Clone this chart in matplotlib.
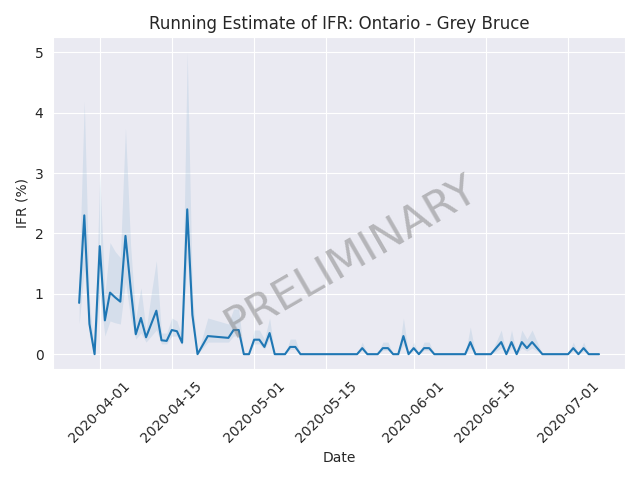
import pandas as pd
import matplotlib
matplotlib.use("Agg")
import matplotlib.pyplot as plt
import matplotlib.dates as mdates
import seaborn as sns

dates = ["2020-03-28", "2020-03-29", "2020-03-30", "2020-03-31", "2020-04-01", "2020-04-02",
         "2020-04-03", "2020-04-04", "2020-04-05", "2020-04-06", "2020-04-07", "2020-04-08",
         "2020-04-09", "2020-04-10", "2020-04-11", "2020-04-12", "2020-04-13", "2020-04-14",
         "2020-04-15", "2020-04-16", "2020-04-17", "2020-04-18", "2020-04-19", "2020-04-20",
         "2020-04-22", "2020-04-26", "2020-04-27", "2020-04-28", "2020-04-29", "2020-04-30",
         "2020-05-01", "2020-05-02", "2020-05-03", "2020-05-04", "2020-05-05", "2020-05-06",
         "2020-05-07", "2020-05-08", "2020-05-09", "2020-05-10", "2020-05-21", "2020-05-22",
         "2020-05-23", "2020-05-25", "2020-05-26", "2020-05-27", "2020-05-28", "2020-05-29",
         "2020-05-30", "2020-05-31", "2020-06-01", "2020-06-02", "2020-06-03", "2020-06-04",
         "2020-06-05", "2020-06-06", "2020-06-07", "2020-06-11", "2020-06-12", "2020-06-13",
         "2020-06-16", "2020-06-18", "2020-06-19", "2020-06-20", "2020-06-21", "2020-06-22",
         "2020-06-23", "2020-06-24", "2020-06-26", "2020-07-01", "2020-07-02", "2020-07-03",
         "2020-07-04", "2020-07-05", "2020-07-07"]
ifr = [0.85, 2.3, 0.5, 0.0, 1.79, 0.56,
       1.02, 0.94, 0.87, 1.96, 1.1, 0.33,
       0.6, 0.28, 0.5, 0.72, 0.23, 0.22,
       0.40, 0.38, 0.19, 2.4, 0.65, 0.0,
       0.3, 0.27, 0.4, 0.4, 0.0, 0.0,
       0.24, 0.24, 0.12, 0.35, 0.0, 0.0,
       0.0, 0.12, 0.12, 0.0, 0.0, 0.1,
       0.0, 0.0, 0.1, 0.1, 0.0, 0.0,
       0.3, 0.0, 0.1, 0.0, 0.1, 0.1,
       0.0, 0.0, 0.0, 0.0, 0.2, 0.0,
       0.0, 0.2, 0.0, 0.2, 0.0, 0.2,
       0.1, 0.2, 0.0, 0.0, 0.1, 0.0,
       0.1, 0.0, 0.0]
lower = [0.5, 1.4, 0.3, 0.0, 1.0, 0.3,
         0.55, 0.52, 0.5, 1.2, 0.6, 0.25,
         0.35, 0.2, 0.3, 0.4, 0.17, 0.17,
         0.3, 0.3, 0.15, 1.6, 0.45, 0.0,
         0.2, 0.2, 0.3, 0.3, 0.0, 0.0,
         0.17, 0.17, 0.08, 0.25, 0.0, 0.0,
         0.0, 0.08, 0.08, 0.0, 0.0, 0.06,
         0.0, 0.0, 0.06, 0.06, 0.0, 0.0,
         0.15, 0.0, 0.06, 0.0, 0.06, 0.06,
         0.0, 0.0, 0.0, 0.0, 0.1, 0.0,
         0.0, 0.1, 0.0, 0.1, 0.0, 0.1,
         0.05, 0.1, 0.0, 0.0, 0.05, 0.0,
         0.05, 0.0, 0.0]
upper = [1.3, 4.2, 0.9, 0.0, 3.0, 1.0,
         1.85, 1.7, 1.6, 3.75, 1.8, 0.6,
         1.1, 0.4, 1.0, 1.55, 0.35, 0.35,
         0.6, 0.55, 0.3, 5.0, 1.0, 0.0,
         0.6, 0.5, 0.75, 0.75, 0.0, 0.0,
         0.4, 0.4, 0.25, 0.6, 0.0, 0.0,
         0.0, 0.25, 0.25, 0.0, 0.0, 0.2,
         0.0, 0.0, 0.2, 0.2, 0.0, 0.0,
         0.6, 0.0, 0.2, 0.0, 0.2, 0.2,
         0.0, 0.0, 0.0, 0.0, 0.45, 0.0,
         0.0, 0.4, 0.0, 0.4, 0.0, 0.4,
         0.25, 0.4, 0.0, 0.0, 0.2, 0.0,
         0.2, 0.0, 0.0]

sns.set_style("darkgrid")
x = pd.to_datetime(dates)

fig, ax = plt.subplots(figsize=(6.4, 4.8), dpi=100)
ax.fill_between(x, lower, upper, color="#1f77b4", alpha=0.1, linewidth=0)
ax.plot(x, ifr, color="#1f77b4", linewidth=1.5)

ax.set_ylim(-0.25, 5.25)
ax.xaxis.set_major_locator(mdates.DayLocator(bymonthday=[1, 15]))
ax.xaxis.set_major_formatter(mdates.DateFormatter("%Y-%m-%d"))
plt.setp(ax.get_xticklabels(), rotation=45)
ax.set_xlabel("Date")
ax.set_ylabel("IFR (%)")
ax.set_title("Running Estimate of IFR: Ontario - Grey Bruce")
ax.text(0.52, 0.34, "PRELIMINARY", transform=ax.transAxes, fontsize=31, color="gray",
        alpha=0.5, rotation=30, ha="center", va="center")
plt.tight_layout()
plt.savefig("out.png", dpi=100)
